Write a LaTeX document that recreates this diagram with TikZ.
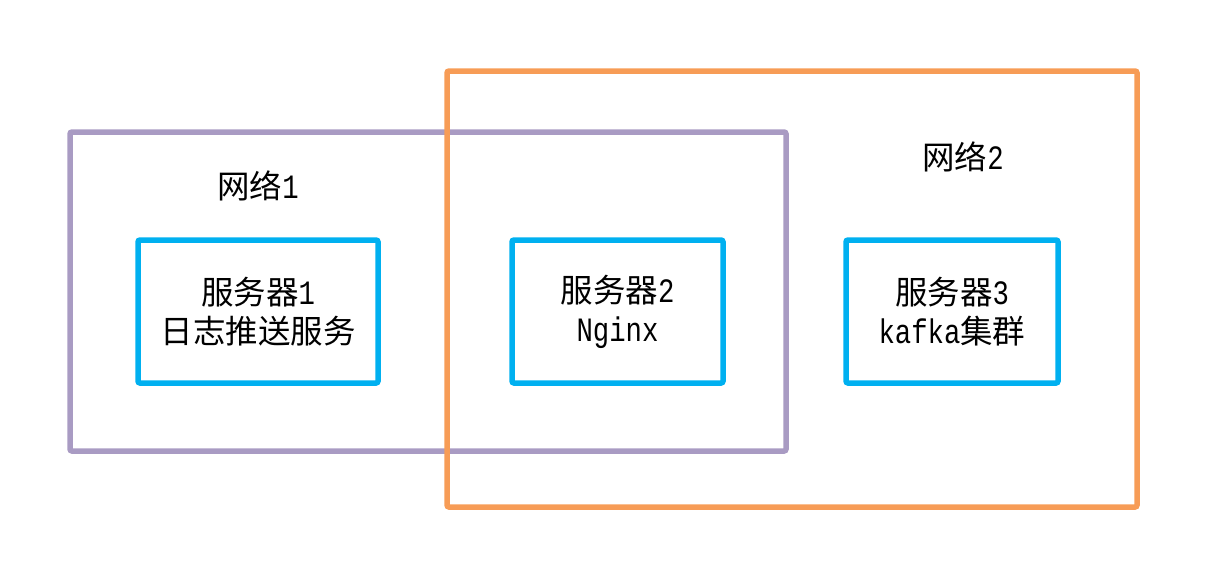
\documentclass[tikz,border=0pt]{standalone}
\usepackage{fontspec}
\newfontfamily\cjk{Noto Sans CJK SC}
\newfontfamily\monof[Scale=1.05,FakeStretch=0.8]{Liberation Mono}
\definecolor{netpurple}{HTML}{A99BC3}
\definecolor{netorange}{HTML}{F79C56}
\definecolor{srvblue}{HTML}{00B0F0}
\begin{document}
\begin{tikzpicture}[x=1pt,y=-1pt,
  netbox/.style={line width=5.5pt,rounded corners=2pt},
  srvbox/.style={draw=srvblue,line width=5.5pt,rounded corners=2pt,minimum height=143pt,inner sep=0pt},
  lbl/.style={font=\fontsize{32.5}{39}\selectfont\cjk,align=center,inner sep=0pt}]
\useasboundingbox (0,0) rectangle (1214,581);
\draw[netbox,draw=netpurple] (70,132) rectangle (786,451);
\draw[netbox,draw=netorange] (447,71) rectangle (1137,507);
\node[srvbox,minimum width=240pt] (s1) at (258,311.5) {};
\node[srvbox,minimum width=211pt] (s2) at (617.5,311.5) {};
\node[srvbox,minimum width=212pt] (s3) at (952,311.5) {};
\node[lbl] (t1) at (s1) {服务器{\monof 1}\\日志推送服务};
\node[lbl] (t2) at (s2) {服务器{\monof 2}\\{\monof Nginx}};
\node[lbl] (t3) at (s3) {服务器{\monof 3}\\{\monof kafka}集群};
\node[lbl] (n1) at (258,186) {网络{\monof 1}};
\node[lbl] (n2) at (963,157) {网络{\monof 2}};
\end{tikzpicture}
\end{document}
